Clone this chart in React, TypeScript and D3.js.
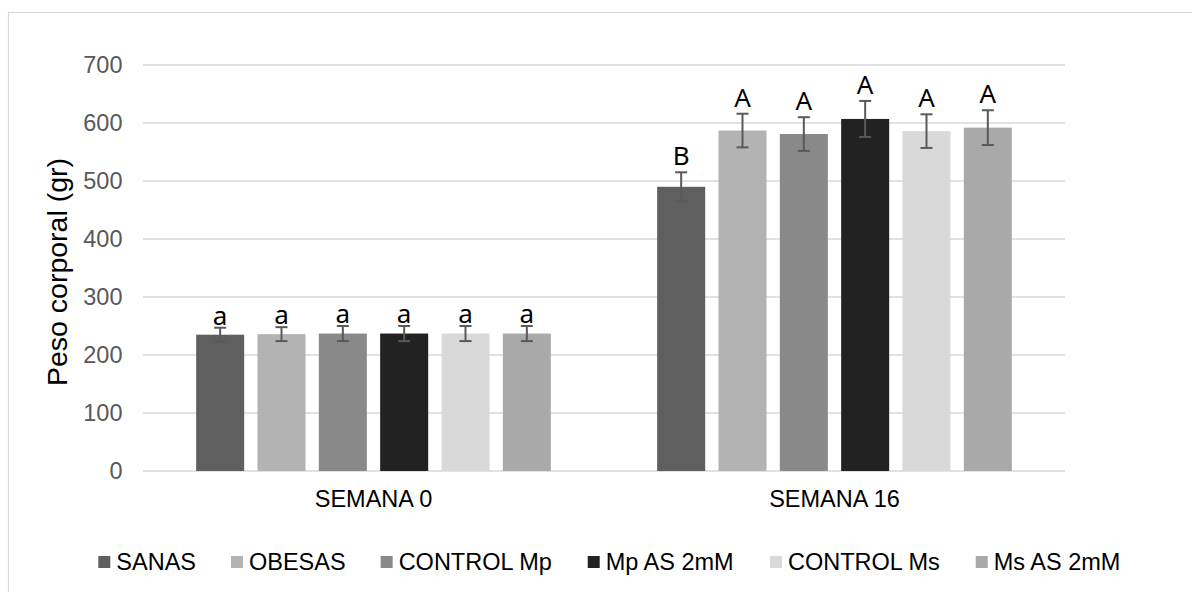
import React from "react";
import * as d3 from "d3";

const categories = ["SEMANA 0", "SEMANA 16"];
const seriesNames = ["SANAS", "OBESAS", "CONTROL Mp", "Mp AS 2mM", "CONTROL Ms", "Ms AS 2mM"];
const seriesColors = ["#5f5f5f", "#b3b3b3", "#898989", "#222222", "#d9d9d9", "#a9a9a9"];
const week0Values = [235, 236, 237, 237, 237, 237];
const week0Errors = [12, 12, 13, 13, 13, 13];
const week16Values = [490, 587, 581, 607, 586, 592];
const week16Errors = [25, 29, 29, 31, 29, 30];
const week0Letters = ["a", "a", "a", "a", "a", "a"];
const week16Letters = ["B", "A", "A", "A", "A", "A"];
const yTicks = [0, 100, 200, 300, 400, 500, 600, 700];

const values = [week0Values, week16Values];
const errors = [week0Errors, week16Errors];
const letters = [week0Letters, week16Letters];
const letterGaps = [3, 7];

const W = 1192;
const H = 592;
const plotLeft = 143;
const plotRight = 1065;
const plotTop = 65;
const plotBottom = 471;
const axisFont = "'Liberation Sans', Arial, sans-serif";
const letterFont = "'Noto Sans', 'Open Sans', sans-serif";
const FS = 23.5;

// approximate Arial widths for legend layout
const charW: Record<string, number> = {
  A: 0.667, B: 0.667, C: 0.722, E: 0.667, L: 0.556, M: 0.833, N: 0.722, O: 0.778, R: 0.722, S: 0.667, T: 0.611,
  p: 0.556, s: 0.5, m: 0.833, "2": 0.556, " ": 0.278,
};
const textW = (t: string) => t.split("").reduce((s, c) => s + (charW[c] ?? 0.556), 0) * FS;

export default function App() {
  const x0 = d3.scaleBand<string>().domain(categories).range([plotLeft, plotRight]).padding(0);
  const y = d3.scaleLinear().domain([0, 700]).range([plotBottom, plotTop]);
  const groupSpan = 368;
  const x1 = d3
    .scaleBand<string>()
    .domain(seriesNames)
    .range([0, groupSpan])
    .paddingInner(0.217)
    .paddingOuter(0.1085);

  // legend layout
  const sq = 12;
  const sqGap = 6;
  const itemGap = 35;
  const widths = seriesNames.map((n) => sq + sqGap + textW(n));
  const total = d3.sum(widths) + itemGap * (seriesNames.length - 1);
  const legendStart = 610 - total / 2;
  const legendX: number[] = [];
  let acc = legendStart;
  widths.forEach((w) => {
    legendX.push(acc);
    acc += w + itemGap;
  });
  const legendY = 562;

  return (
    <svg
      width={W}
      height={H}
      style={{ position: "absolute", left: 0, top: 0, display: "block", background: "#fff" }}
    >
      <rect x={8.5} y={12.5} width={1200} height={600} fill="#fff" stroke="#d9d9d9" strokeWidth={1.2} />
      {yTicks.map((t) => (
        <g key={t}>
          <line x1={plotLeft} x2={plotRight} y1={y(t)} y2={y(t)} stroke="#d9d9d9" strokeWidth={1.5} />
          <text
            x={122.5}
            y={y(t)}
            dy="0.36em"
            textAnchor="end"
            fontFamily={axisFont}
            fontSize={FS}
            fill="#595959"
          >
            {t}
          </text>
        </g>
      ))}
      {categories.map((c, ci) => {
        const gx = (x0(c) as number) + x0.bandwidth() / 2 - groupSpan / 2;
        return (
          <g key={c}>
            {seriesNames.map((s, si) => {
              const v = values[ci][si];
              const e = errors[ci][si];
              const bx = gx + (x1(s) as number);
              const bw = x1.bandwidth();
              const cx = bx + bw / 2;
              return (
                <g key={s}>
                  <rect x={bx} y={y(v)} width={bw} height={y(0) - y(v)} fill={seriesColors[si]} />
                  <line x1={cx} x2={cx} y1={y(v + e)} y2={y(v - e)} stroke="#595959" strokeWidth={2} />
                  <line x1={cx - 6} x2={cx + 6} y1={y(v + e)} y2={y(v + e)} stroke="#595959" strokeWidth={2} />
                  <line x1={cx - 6} x2={cx + 6} y1={y(v - e)} y2={y(v - e)} stroke="#595959" strokeWidth={2} />
                  <text
                    x={cx}
                    y={y(v + e) - letterGaps[ci]}
                    textAnchor="middle"
                    fontFamily={letterFont}
                    fontSize={26}
                    fill="#000"
                  >
                    {letters[ci][si]}
                  </text>
                </g>
              );
            })}
            <text
              x={(x0(c) as number) + x0.bandwidth() / 2}
              y={507}
              textAnchor="middle"
              fontFamily={axisFont}
              fontSize={FS}
              fill="#000"
            >
              {c}
            </text>
          </g>
        );
      })}
      <text
        transform={`translate(67,${(plotTop + plotBottom) / 2 + 4}) rotate(-90)`}
        textAnchor="middle"
        fontFamily={axisFont}
        fontSize={28.5}
        fill="#000"
      >
        Peso corporal (gr)
      </text>
      {seriesNames.map((n, i) => (
        <g key={n}>
          <rect x={legendX[i]} y={legendY - sq / 2} width={sq} height={sq} fill={seriesColors[i]} />
          <text
            x={legendX[i] + sq + sqGap}
            y={legendY}
            dy="0.36em"
            fontFamily={axisFont}
            fontSize={FS}
            fill="#000"
          >
            {n}
          </text>
        </g>
      ))}
    </svg>
  );
}
